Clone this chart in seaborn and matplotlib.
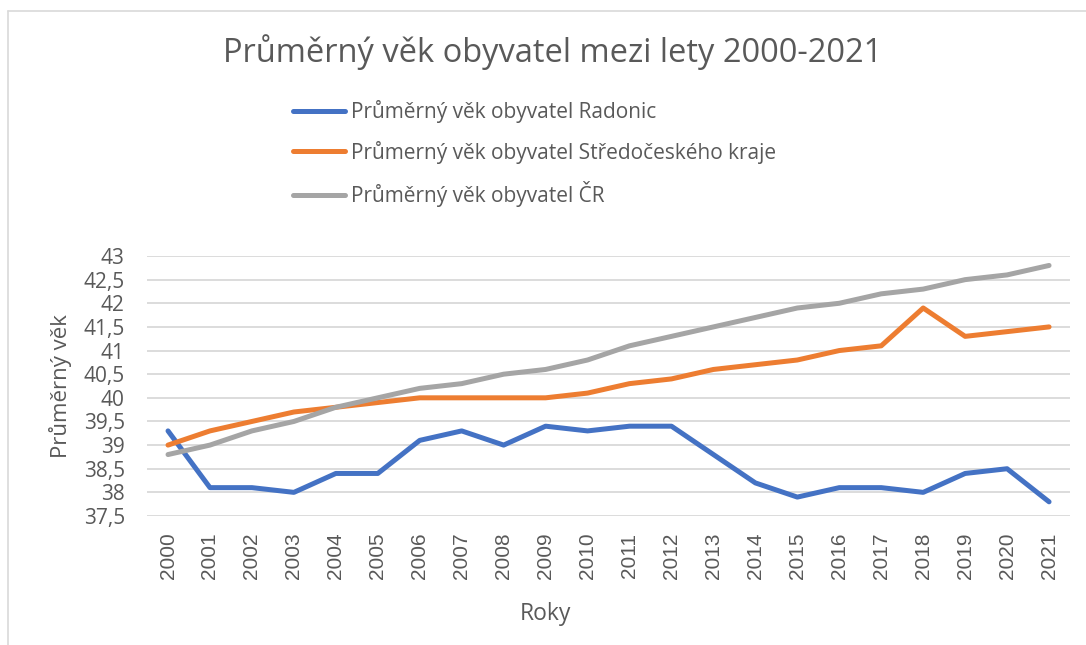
import pandas as pd
import numpy as np
import matplotlib
matplotlib.use("Agg")
import matplotlib.pyplot as plt
import seaborn as sns
from matplotlib.ticker import FuncFormatter, MultipleLocator

roky = list(range(2000, 2022))
radonice = [39.3, 38.1, 38.1, 38.0, 38.4, 38.4, 39.1, 39.3, 39.0, 39.4, 39.3,
            39.4, 39.4, 38.8, 38.2, 37.9, 38.1, 38.1, 38.0, 38.4, 38.5, 37.8]
stredocesky = [39.0, 39.3, 39.5, 39.7, 39.8, 39.9, 40.0, 40.0, 40.0, 40.0, 40.1,
               40.3, 40.4, 40.6, 40.7, 40.8, 41.0, 41.1, 41.9, 41.3, 41.4, 41.5]
cr = [38.8, 39.0, 39.3, 39.5, 39.8, 40.0, 40.2, 40.3, 40.5, 40.6, 40.8,
      41.1, 41.3, 41.5, 41.7, 41.9, 42.0, 42.2, 42.3, 42.5, 42.6, 42.8]
nazvy = ["Průměrný věk obyvatel Radonic",
         "Průmerný věk obyvatel Středočeského kraje",
         "Průměrný věk obyvatel ČR"]
barvy = ["#4472c4", "#ed7d31", "#a5a5a5"]

df = pd.concat([
    pd.DataFrame({"Rok": roky, "Věk": radonice, "Řada": nazvy[0]}),
    pd.DataFrame({"Rok": roky, "Věk": stredocesky, "Řada": nazvy[1]}),
    pd.DataFrame({"Rok": roky, "Věk": cr, "Řada": nazvy[2]}),
])

sns.set_style("white")
plt.rcParams['font.family'] = ['Open Sans', 'DejaVu Sans']
seda = "#595959"

fig = plt.figure(figsize=(10.86, 6.45), dpi=100)
ax = fig.add_axes([0.1354, 0.2, 0.8499, 0.4031])

sns.lineplot(data=df, x="Rok", y="Věk", hue="Řada", palette=barvy,
             linewidth=3.6, ax=ax, legend=False)

ax.set_xlim(1999.5, 2021.5)
ax.set_ylim(37.5, 43)
ax.yaxis.set_major_locator(MultipleLocator(0.5))
ax.yaxis.set_major_formatter(FuncFormatter(lambda v, p: f"{v:g}".replace(".", ",")))
ax.set_xticks(roky)
ax.set_xticklabels([str(r) for r in roky], rotation=90, family="Liberation Sans",
                   fontsize=15, color=seda)
ax.tick_params(axis="y", labelsize=15, labelcolor=seda, length=0, pad=16)
ax.tick_params(axis="x", length=0, pad=12)
ax.grid(axis="y", color="#d9d9d9", linewidth=1.3)
for s in ax.spines.values():
    s.set_visible(False)
ax.set_axisbelow(True)

ax.set_xlabel("Roky", fontsize=16.5, color=seda)
ax.xaxis.set_label_coords((545 - 147) / 923, -0.33)
ax.set_ylabel("Průměrný věk", fontsize=16, color=seda)
ax.yaxis.set_label_coords(-(147 - 72) / 923, 0.5)

fig.text(0.509, 0.92, "Průměrný věk obyvatel mezi lety 2000-2021",
         ha="center", va="center", fontsize=23.5, color=seda)

handles = [plt.Line2D([], [], color=c, linewidth=3.6, solid_capstyle="round")
           for c in barvy]
fig.legend(handles, nazvy, loc="upper left", bbox_to_anchor=(0.262, 0.858),
           frameon=False, fontsize=15, labelcolor=seda, handlelength=2.5,
           handletextpad=0.3, labelspacing=0.85, borderaxespad=0)

# ramecek grafu
fig.add_artist(plt.Line2D([8 / 1086, 8 / 1086], [0, 1 - 11 / 645],
                          transform=fig.transFigure, color="#d9d9d9", linewidth=1.2))
fig.add_artist(plt.Line2D([8 / 1086, 1], [1 - 11 / 645, 1 - 11 / 645],
                          transform=fig.transFigure, color="#d9d9d9", linewidth=1.2))

fig.savefig("out.png", dpi=100)
